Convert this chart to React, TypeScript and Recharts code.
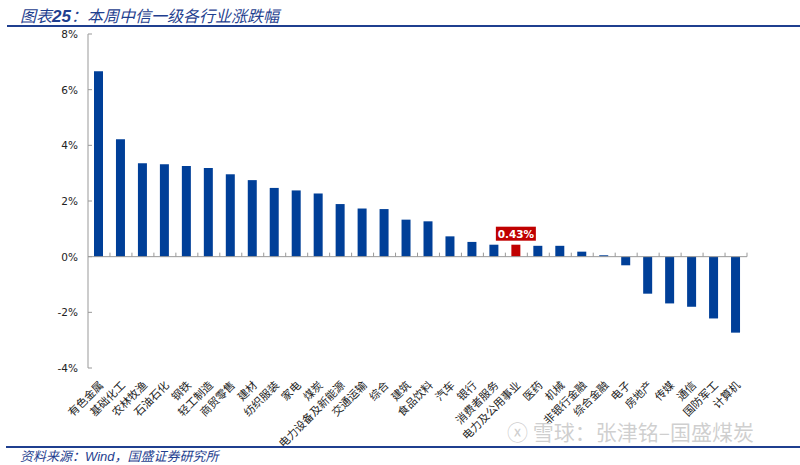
import { BarChart, Bar, XAxis, YAxis, ReferenceLine, Cell, LabelList } from 'recharts'

const categories = [
  '有色金属', '基础化工', '农林牧渔', '石油石化', '钢铁', '轻工制造', '商贸零售', '建材',
  '纺织服装', '家电', '煤炭', '电力设备及新能源', '交通运输', '综合', '建筑', '食品饮料',
  '汽车', '银行', '消费者服务', '电力及公用事业', '医药', '机械', '非银行金融', '综合金融',
  '电子', '房地产', '传媒', '通信', '国防军工', '计算机',
]
const changes = [
  6.66, 4.22, 3.36, 3.32, 3.26, 3.19, 2.96, 2.75,
  2.47, 2.38, 2.27, 1.89, 1.73, 1.71, 1.33, 1.27,
  0.73, 0.53, 0.43, 0.43, 0.39, 0.39, 0.18, 0.05,
  -0.31, -1.33, -1.68, -1.8, -2.22, -2.73,
]
const highlight = '电力及公用事业'
const yTicks = [-4, -2, 0, 2, 4, 6, 8]
const Y_MIN = -4
const Y_MAX = 8

const W = 800
const H = 465
const X_AXIS_H = 97
const margin = { top: 34, right: 53, bottom: 0, left: 0 }
const Y_AXIS_W = 88
const PLOT_W = W - margin.left - margin.right - Y_AXIS_W
const PLOT_H = H - margin.top - margin.bottom - X_AXIS_H
const ZERO_Y = margin.top + (Y_MAX / (Y_MAX - Y_MIN)) * PLOT_H
const AXIS_X = margin.left + Y_AXIS_W

const BLUE = '#003f98'
const RED = '#c00000'
const TITLE_BLUE = '#1f3f8f'
const CJK = '"Noto Sans CJK SC", sans-serif'

const data = categories.map((name, i) => ({ name, value: changes[i] }))

function CategoryTick(props: any) {
  const { x, y, payload } = props
  const band = PLOT_W / categories.length
  const px = x + 5
  const py = y + 10
  return (
    <g>
      <line x1={x + band / 2} x2={x + band / 2} y1={ZERO_Y} y2={ZERO_Y - 4} stroke="#999" />
      <text
        x={px}
        y={py}
        transform={`rotate(-45 ${px} ${py})`}
        textAnchor="end"
        fontSize={11}
        fontFamily={CJK}
        fill="#222"
      >
        {payload.value}
      </text>
    </g>
  )
}

function PercentTick(props: any) {
  const { y, payload } = props
  return (
    <g>
      <line x1={AXIS_X} x2={AXIS_X + 4} y1={y} y2={y} stroke="#999" />
      <text
        x={AXIS_X - 10}
        y={y}
        dy={4}
        textAnchor="end"
        fontSize={10.5}
        fontFamily='"DejaVu Sans", sans-serif'
        fill="#222"
      >
        {`${payload.value}%`}
      </text>
    </g>
  )
}

function HighlightLabel(props: any) {
  const { x, y, width, index, value } = props
  if (categories[index] !== highlight) return null
  const cx = x + width / 2
  return (
    <g>
      <rect x={cx - 20} y={y - 18} width={40} height={14} fill={RED} />
      <text
        x={cx}
        y={y - 7}
        textAnchor="middle"
        fontSize={10.5}
        fontWeight="bold"
        fontFamily='"DejaVu Sans", sans-serif'
        fill="#fff"
      >
        {`${value.toFixed(2)}%`}
      </text>
    </g>
  )
}

export default function App() {
  return (
    <div style={{ position: 'absolute', left: 0, top: 0, width: W, height: H, background: '#fff', overflow: 'hidden' }}>
      <div
        style={{
          position: 'absolute', left: 20, top: 5, fontFamily: CJK, fontStyle: 'italic',
          fontSize: 16, color: TITLE_BLUE, lineHeight: '20px', whiteSpace: 'nowrap',
        }}
      >
        图表<span style={{ fontFamily: '"Liberation Sans", sans-serif', fontWeight: 'bold', fontSize: 17 }}>25</span>：本周中信一级各行业涨跌幅
      </div>
      <div style={{ position: 'absolute', left: 7, right: 0, top: 25, height: 2, background: TITLE_BLUE }} />

      <div style={{ position: 'absolute', left: 0, top: 0 }}>
        <BarChart width={W} height={H} data={data} margin={margin} barSize={9}>
          <YAxis
            domain={[Y_MIN, Y_MAX]}
            ticks={yTicks}
            width={Y_AXIS_W}
            tick={<PercentTick />}
            tickLine={false}
            axisLine={{ stroke: '#999' }}
            interval={0}
          />
          <XAxis
            dataKey="name"
            interval={0}
            tick={<CategoryTick />}
            tickLine={false}
            axisLine={false}
            height={X_AXIS_H}
          />
          <ReferenceLine y={0} stroke="#999" />
          <Bar dataKey="value" isAnimationActive={false}>
            {data.map((d) => (
              <Cell key={d.name} fill={d.name === highlight ? RED : BLUE} />
            ))}
            <LabelList dataKey="value" content={<HighlightLabel />} />
          </Bar>
        </BarChart>
      </div>

      <div style={{ position: 'absolute', left: 6, right: 0, top: 446, height: 2, background: TITLE_BLUE }} />
      <div
        style={{
          position: 'absolute', left: 507, top: 418, fontFamily: CJK, fontSize: 21,
          color: 'rgba(175,175,175,0.6)', whiteSpace: 'nowrap', lineHeight: '26px',
        }}
      >
        ⓧ 雪球：张津铭–国盛煤炭
      </div>
      <div
        style={{
          position: 'absolute', left: 20, top: 447, fontFamily: CJK, fontStyle: 'italic',
          fontSize: 13, color: TITLE_BLUE, lineHeight: '17px', whiteSpace: 'nowrap',
        }}
      >
        资料来源：<span style={{ fontFamily: '"Liberation Sans", sans-serif' }}>Wind</span>，国盛证券研究所
      </div>
    </div>
  )
}
